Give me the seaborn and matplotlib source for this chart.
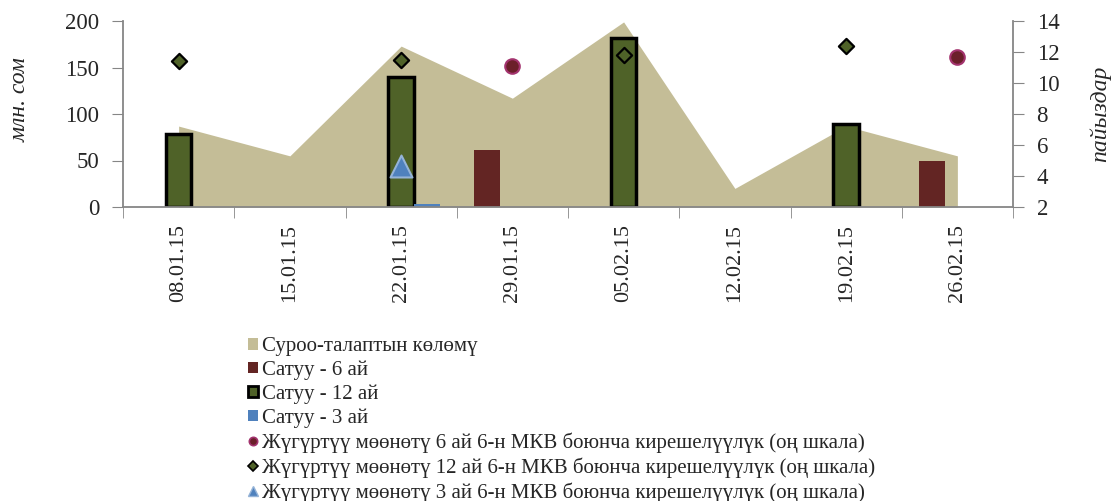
import numpy as np
import pandas as pd
import matplotlib
matplotlib.use("Agg")
import matplotlib.pyplot as plt
from matplotlib.patches import Patch
from matplotlib.lines import Line2D
import seaborn as sns

sns.set_style("white")
plt.rcParams['font.family'] = ['Liberation Serif', 'DejaVu Serif']

# данные
dates = ["08.01.15", "15.01.15", "22.01.15", "29.01.15",
         "05.02.15", "12.02.15", "19.02.15", "26.02.15"]
demand = [87, 55, 173, 117, 199, 20, 87, 55]          # Суроо-талаптын көлөмү
sale_6m = [np.nan, np.nan, np.nan, 61, np.nan, np.nan, np.nan, 50]
sale_12m = [78, np.nan, 140, np.nan, 182, np.nan, 89, np.nan]
sale_3m = [np.nan, np.nan, 3.5, np.nan, np.nan, np.nan, np.nan, np.nan]
yield_6m = [np.nan, np.nan, np.nan, 11.1, np.nan, np.nan, np.nan, 11.7]
yield_12m = [11.4, np.nan, 11.5, np.nan, 11.8, np.nan, 12.4, np.nan]
yield_3m = [np.nan, np.nan, 4.65, np.nan, np.nan, np.nan, np.nan, np.nan]

lbl_demand = "Суроо-талаптын көлөмү"
lbl_s6 = "Сатуу - 6 ай"
lbl_s12 = "Сатуу - 12 ай"
lbl_s3 = "Сатуу - 3 ай"
lbl_y6 = "Жүгүртүү мөөнөтү 6 ай 6-н МКВ боюнча кирешелүүлүк (оң шкала)"
lbl_y12 = "Жүгүртүү мөөнөтү 12 ай 6-н МКВ боюнча кирешелүүлүк (оң шкала)"
lbl_y3 = "Жүгүртүү мөөнөтү 3 ай 6-н МКВ боюнча кирешелүүлүк (оң шкала)"

c_area = "#C4BD97"
c_red = "#632523"
c_green = "#4F6228"
c_blue = "#4F81BD"
c_axis = "#868686"

bars = pd.DataFrame({
    "date": dates * 3,
    "val": sale_6m + sale_12m + sale_3m,
    "ser": [lbl_s6] * 8 + [lbl_s12] * 8 + [lbl_s3] * 8,
})

fig = plt.figure(figsize=(11.11, 5.01), dpi=100)
ax = fig.add_axes([123 / 1111, 1 - 207 / 501, 890 / 1111, 186 / 501])

pos = np.arange(len(dates))
ax.fill_between(pos, demand, 0, color=c_area, lw=0, zorder=1)

# столбцы продаж
sns.barplot(data=bars, x="date", y="val", hue="ser", order=dates,
            hue_order=[lbl_s6, lbl_s12, lbl_s3],
            palette=[c_red, c_green, c_blue], width=0.69, gap=0.0,
            saturation=1, legend=False, ax=ax, zorder=2)
for cont, ser in zip(ax.containers, [lbl_s6, lbl_s12, lbl_s3]):
    for b in cont:
        if ser == lbl_s12:
            b.set_edgecolor("black")
            b.set_linewidth(2.5)
        else:
            b.set_linewidth(0)

ax.set_xlim(-0.5, len(dates) - 0.5)
ax.set_ylim(0, 200)
ax.set_yticks([0, 50, 100, 150, 200])
ax.set_xticks(pos)
ax.set_xticklabels(dates, rotation=90)
ax.set_xticks(np.arange(-0.5, len(dates)), minor=True)
ax.tick_params(axis="x", which="major", length=0, pad=12, labelsize=16)
ax.tick_params(axis="x", which="minor", length=8, direction="out",
               color=c_axis, bottom=True)
ax.tick_params(axis="y", length=8, direction="out", color=c_axis,
               labelsize=16.5, pad=9, left=True)
ax.set_xlabel("")
ax.set_ylabel("млн. сом", fontsize=17, style="italic")
ax.yaxis.set_label_coords(-0.104, 0.575)
for s in ["top", "right"]:
    ax.spines[s].set_visible(False)
for s in ["left", "bottom"]:
    ax.spines[s].set_color(c_axis)
    ax.spines[s].set_linewidth(1.3)

# доходность, правая шкала
ax2 = ax.twinx()
sns.scatterplot(x=pos, y=yield_6m, marker="o", s=110, color="#6B1F2A",
                edgecolor="#A3336E", linewidth=1.5, ax=ax2, zorder=3)
sns.scatterplot(x=pos, y=yield_12m, marker="D", s=60, color=c_green,
                edgecolor="black", linewidth=1.6, ax=ax2, zorder=3)
sns.scatterplot(x=pos, y=yield_3m, marker="^", s=250, color=c_blue,
                edgecolor="#95B3D7", linewidth=1.5, ax=ax2, zorder=3)
ax2.set_ylim(2, 14)
ax2.set_yticks([2, 4, 6, 8, 10, 12, 14])
ax2.tick_params(axis="y", length=8, direction="out", color=c_axis,
                labelsize=16.5, pad=9, right=True)
ax2.set_ylabel("пайыздар", fontsize=17, style="italic")
ax2.yaxis.set_label_coords(1.086, 0.5)
for s in ["top", "left", "bottom"]:
    ax2.spines[s].set_visible(False)
ax2.spines["right"].set_color(c_axis)
ax2.spines["right"].set_linewidth(1.3)
ax.set_xlim(-0.5, len(dates) - 0.5)

handles = [
    Patch(facecolor=c_area, edgecolor="none", label=lbl_demand),
    Patch(facecolor=c_red, edgecolor="none", label=lbl_s6),
    Patch(facecolor=c_green, edgecolor="black", linewidth=2, label=lbl_s12),
    Patch(facecolor=c_blue, edgecolor="none", label=lbl_s3),
    Line2D([], [], ls="none", marker="o", ms=6, mfc="#6B1F2A",
           mec="#A3336E", mew=1.2, label=lbl_y6),
    Line2D([], [], ls="none", marker="D", ms=5, mfc=c_green,
           mec="black", mew=1.2, label=lbl_y12),
    Line2D([], [], ls="none", marker="^", ms=7, mfc=c_blue,
           mec="#95B3D7", mew=1, label=lbl_y3),
]
fig.legend(handles=handles, loc="upper left",
           bbox_to_anchor=(240 / 1111, 1 - 329 / 501), frameon=False,
           fontsize=15, handlelength=0.45, handleheight=0.45,
           handletextpad=0.2, labelspacing=0.21, borderaxespad=0)

plt.savefig("out.png", dpi=100)
